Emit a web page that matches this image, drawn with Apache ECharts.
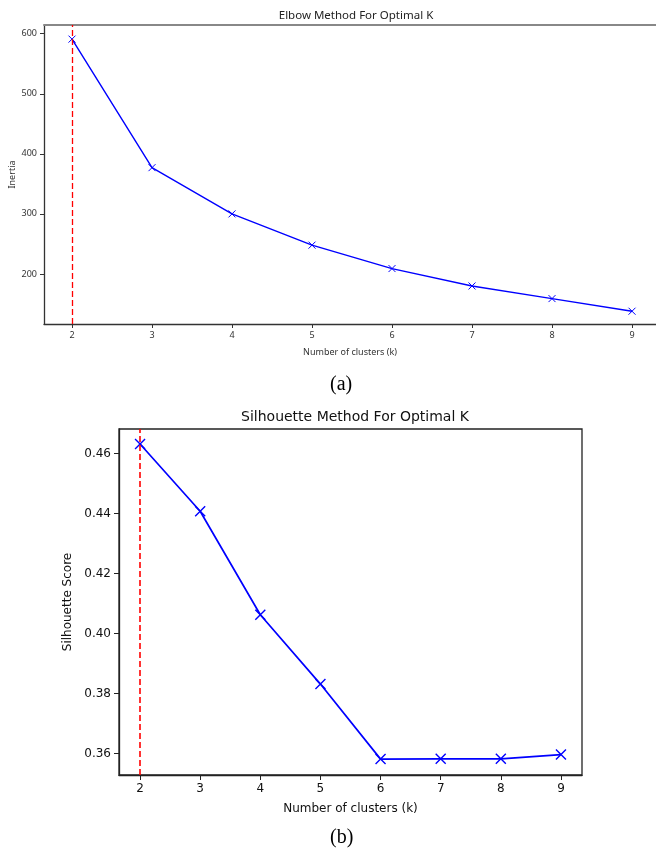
<!DOCTYPE html>
<html>
<head>
<meta charset="utf-8">
<script src="https://cdn.jsdelivr.net/npm/echarts@6/dist/echarts.min.js"></script>
<style>html,body{margin:0;padding:0;background:#fff;}#c{width:656px;height:848px;}</style>
</head>
<body>
<div id="c"></div>
<script>
const kValues = [2, 3, 4, 5, 6, 7, 8, 9];
const inertia = [591, 377, 300, 248, 209, 180, 159, 138];
const silhouette = [0.4632, 0.4408, 0.4063, 0.3832, 0.3582, 0.3583, 0.3583, 0.3597];
const xTicks = [2, 3, 4, 5, 6, 7, 8, 9];
const inertiaTicks = [200, 300, 400, 500, 600];
const silTicks = [0.36, 0.38, 0.40, 0.42, 0.44, 0.46];
const optimalK = 2;

const xMark = 'path://M0,0L10,10M10,0L0,10';
const chart = echarts.init(document.getElementById('c'), null, {renderer: 'canvas'});

const topFont = 'Noto Sans';
const botFont = 'DejaVu Sans';

chart.setOption({
  animation: false,
  backgroundColor: '#fff',
  title: [
    {text: 'Elbow Method For Optimal K', left: 351, top: 5, textAlign: 'center',
     textStyle: {fontFamily: topFont, fontSize: 11.5, fontWeight: 'normal', color: '#222'}},
    {text: 'Silhouette Method For Optimal K', left: 350, top: 405, textAlign: 'center',
     textStyle: {fontFamily: botFont, fontSize: 14, fontWeight: 'normal', color: '#111'}}
  ],
  grid: [
    {left: 44, right: 0, top: 25, bottom: 524, containLabel: false, outerBoundsMode: 'none'},
    {left: 119, right: 74, top: 429, bottom: 73, containLabel: false, outerBoundsMode: 'none', show: true,
     borderColor: '#222', borderWidth: 1.3, backgroundColor: 'transparent'}
  ],
  xAxis: [
    {type: 'value', gridIndex: 0, min: 1.65, max: 9.3,
     name: 'Number of clusters (k)', nameLocation: 'middle', nameGap: 24,
     nameTextStyle: {fontFamily: topFont, fontSize: 9, color: '#333'},
     axisLine: {show: true, onZero: false, lineStyle: {color: '#333', width: 1.3}},
     axisTick: {show: true, length: 4, customValues: xTicks, lineStyle: {color: '#333'}},
     axisLabel: {show: true, customValues: xTicks, fontFamily: topFont, fontSize: 9, color: '#333', margin: 7},
     splitLine: {show: false}},
    {type: 'value', gridIndex: 0, position: 'top', min: 1.65, max: 9.3,
     axisLine: {show: true, onZero: false, lineStyle: {color: '#888', width: 2}},
     axisTick: {show: false}, axisLabel: {show: false}, splitLine: {show: false}},
    {type: 'value', gridIndex: 1, min: 1.65, max: 9.35,
     name: 'Number of clusters (k)', nameLocation: 'middle', nameGap: 28,
     nameTextStyle: {fontFamily: botFont, fontSize: 12, color: '#111'},
     axisLine: {show: true, onZero: false, lineStyle: {color: '#222', width: 1.3}},
     axisTick: {show: true, length: 5, customValues: xTicks, lineStyle: {color: '#222'}},
     axisLabel: {show: true, customValues: xTicks, fontFamily: botFont, fontSize: 12, color: '#111', margin: 8},
     splitLine: {show: false}}
  ],
  yAxis: [
    {type: 'value', gridIndex: 0, min: 116.7, max: 614.5,
     name: 'Inertia', nameLocation: 'middle', nameGap: 27, nameRotate: 90, nameMoveOverlap: false,
     nameTextStyle: {fontFamily: topFont, fontSize: 9, color: '#333'},
     axisLine: {show: true, onZero: false, lineStyle: {color: '#333', width: 1.3}},
     axisTick: {show: true, length: 4, customValues: inertiaTicks, lineStyle: {color: '#333'}},
     axisLabel: {show: true, customValues: inertiaTicks, fontFamily: topFont, fontSize: 9, color: '#333', margin: 7},
     splitLine: {show: false}},
    {type: 'value', gridIndex: 1, min: 0.3529, max: 0.4682,
     name: 'Silhouette Score', nameLocation: 'middle', nameGap: 44, nameRotate: 90,
     nameTextStyle: {fontFamily: botFont, fontSize: 12, color: '#111'},
     axisLine: {show: true, onZero: false, lineStyle: {color: '#222', width: 1.3}},
     axisTick: {show: true, length: 5, customValues: silTicks, lineStyle: {color: '#222'}},
     axisLabel: {show: true, customValues: silTicks, fontFamily: botFont, fontSize: 12, color: '#111', margin: 8,
       formatter: v => v.toFixed(2)},
     splitLine: {show: false}}
  ],
  series: [
    {type: 'line', xAxisIndex: 0, yAxisIndex: 0,
     data: kValues.map((k, i) => [k, inertia[i]]),
     symbol: xMark, symbolSize: 7, showAllSymbol: true,
     lineStyle: {color: '#0000ff', width: 1.4},
     itemStyle: {color: 'transparent', borderColor: '#0000ff', borderWidth: 1},
     markLine: {silent: true, symbol: 'none', label: {show: false},
       lineStyle: {color: '#ff0000', type: [6, 3], width: 1.3},
       data: [{xAxis: optimalK}]}},
    {type: 'line', xAxisIndex: 2, yAxisIndex: 1,
     data: kValues.map((k, i) => [k, silhouette[i]]),
     symbol: xMark, symbolSize: 10, showAllSymbol: true,
     lineStyle: {color: '#0000ff', width: 1.7},
     itemStyle: {color: 'transparent', borderColor: '#0000ff', borderWidth: 1.4},
     markLine: {silent: true, symbol: 'none', label: {show: false},
       lineStyle: {color: '#ff0000', type: [6, 3], width: 1.6},
       data: [{xAxis: optimalK}]}}
  ],
  graphic: [
    {type: 'text', left: 330, top: 375, style: {text: '(a)', fontFamily: 'Liberation Serif', fontSize: 20, fill: '#000'}},
    {type: 'text', left: 330, top: 828, style: {text: '(b)', fontFamily: 'Liberation Serif', fontSize: 20, fill: '#000'}}
  ]
});
</script>
</body>
</html>
